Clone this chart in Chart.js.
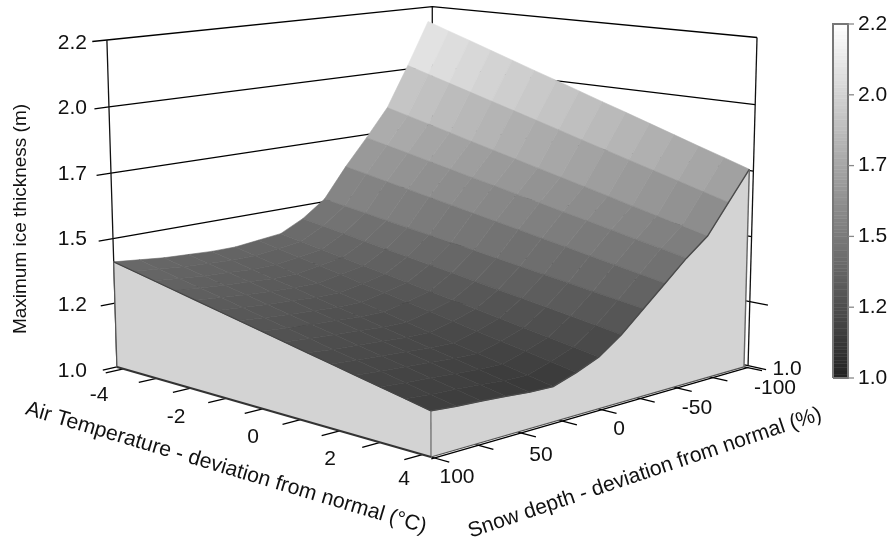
<!DOCTYPE html>
<html><head><meta charset="utf-8">
<style>html,body{margin:0;padding:0;background:#fff}canvas{display:block;filter:blur(0.6px)}</style>
<script src="https://cdn.jsdelivr.net/npm/chart.js@4"></script>
</head><body><canvas id="c" width="888" height="541"></canvas>
<script>
// ---- data ----
const airTemp = [-4.2,-3.6,-3,-2.4,-1.8,-1.2,-0.6,0,0.6,1.2,1.8,2.4,3,3.6,4.2];
const snowDepth = [100,85.7,71.4,57.1,42.9,28.6,14.3,0,-14.3,-28.6,-42.9,-57.1,-71.4,-85.7,-100];
const iceS100  = [1.410,1.392,1.374,1.356,1.338,1.320,1.302,1.284,1.266,1.248,1.230,1.212,1.194,1.176,1.158];
const iceS86   = [1.400,1.382,1.364,1.346,1.329,1.311,1.293,1.275,1.257,1.239,1.221,1.204,1.186,1.168,1.150];
const iceS71   = [1.390,1.373,1.355,1.338,1.320,1.303,1.285,1.268,1.250,1.233,1.215,1.198,1.180,1.163,1.145];
const iceS57   = [1.385,1.367,1.350,1.332,1.314,1.297,1.279,1.262,1.244,1.226,1.209,1.191,1.173,1.156,1.138];
const iceS43   = [1.380,1.362,1.344,1.326,1.309,1.291,1.273,1.255,1.237,1.219,1.201,1.184,1.166,1.148,1.130];
const iceS29   = [1.380,1.362,1.344,1.326,1.308,1.290,1.272,1.254,1.235,1.217,1.199,1.181,1.163,1.145,1.127];
const iceS14   = [1.390,1.373,1.356,1.340,1.323,1.306,1.289,1.273,1.256,1.239,1.222,1.205,1.189,1.172,1.155];
const iceS0    = [1.400,1.385,1.370,1.355,1.340,1.325,1.310,1.295,1.280,1.265,1.250,1.235,1.220,1.205,1.190];
const iceSm14  = [1.445,1.431,1.417,1.403,1.389,1.375,1.361,1.348,1.334,1.320,1.306,1.292,1.278,1.264,1.250];
const iceSm29  = [1.510,1.497,1.484,1.470,1.457,1.444,1.431,1.418,1.404,1.391,1.378,1.365,1.351,1.338,1.325];
const iceSm43  = [1.630,1.614,1.597,1.581,1.564,1.548,1.531,1.515,1.499,1.482,1.466,1.449,1.433,1.416,1.400];
const iceSm57  = [1.737,1.718,1.700,1.681,1.662,1.643,1.625,1.606,1.587,1.568,1.550,1.531,1.512,1.494,1.475];
const iceSm71  = [1.850,1.828,1.806,1.784,1.761,1.739,1.717,1.695,1.673,1.651,1.629,1.606,1.584,1.562,1.540];
const iceSm86  = [2.015,1.989,1.963,1.937,1.911,1.885,1.859,1.833,1.806,1.780,1.754,1.728,1.702,1.676,1.650];
const iceSm100 = [2.190,2.159,2.129,2.098,2.067,2.036,2.006,1.975,1.944,1.914,1.883,1.852,1.821,1.791,1.760];
const ice = [iceS100,iceS86,iceS71,iceS57,iceS43,iceS29,iceS14,iceS0,iceSm14,iceSm29,iceSm43,iceSm57,iceSm71,iceSm86,iceSm100];
const tempTicks = [-4,-3,-2,-1,0,1,2,3,4];
const snowTicks = [100,75,50,25,0,-25,-50,-75,-100];
const zTicks = [1,1.25,1.5,1.75,2,2.25];
const zTickLabels = ['1.0','1.2','1.5','1.7','2.0','2.2'];
const tempTickLabels = ['-4','-2','0','2','4'];
const snowTickLabels = ['100','50','0','-50','-100'];

// ---- view: perspective projection of the 3D box into the chart's pixel-like scales ----
const box = {tMin:-4.2,tMax:4.2,sMin:-103,sMax:100,zMin:1,zMax:2.25};
const cam = {ox:431,oy:457,
  ax:-296,ay:-33.35,aw:0.1544,
  bx:429.8,by:-36.3,bw:0.1507,
  cx:-15.2,cy:-378.8,cw:-0.0337};
function proj(T,S,Z){
  const t=(box.tMax-T)/(box.tMax-box.tMin), s=(box.sMax-S)/(box.sMax-box.sMin), w=(Z-box.zMin)/(box.zMax-box.zMin);
  const W=1+t*cam.aw+s*cam.bw+w*cam.cw;
  return {x:(cam.ox+t*cam.ax+s*cam.bx+w*cam.cx)/W, y:(cam.oy+t*cam.ay+s*cam.by+w*cam.cy)/W};
}
function gray(z){const g=Math.max(0,Math.min(255,Math.round(34+176.8*(z-1))));return `rgb(${g},${g},${g})`;}

const layers=[];
function line(pts,color,width){layers.push({data:pts,showLine:true,fill:false,borderColor:color,borderWidth:width,pointRadius:0,tension:0,clip:false});}
function poly(pts,fillC,edgeC,width){layers.push({data:pts.concat([pts[0]]),showLine:true,fill:'shape',backgroundColor:fillC,borderColor:edgeC,borderWidth:width,pointRadius:0,tension:0,clip:false});}

const tL=box.tMin,tR=box.tMax,sN=box.sMax,sF=box.sMin,z0=box.zMin,z1=box.zMax;
// back walls: grid lines and vertical edges
zTicks.forEach(z=>{
  line([proj(tL,108,z),proj(tL,sN,z),proj(tL,sF,z),proj(tR,sF,z)],'#000',1.3);
});
line([proj(tL,sN,z0),proj(tL,sN,z1)],'#111',1.3);
line([proj(tL,sF,z0),proj(tL,sF,z1)],'#111',1.3);
line([proj(tR,sF,z0),proj(tR,sF,z1)],'#111',1.3);
// right-hand outer ticks
[1,1.25].forEach(z=>line([proj(tR,sF,z),proj(4.62,sF,z)],'#000',1.3));
// floor ticks
tempTicks.forEach(T=>line([proj(T,sN,z0),proj(T,110,z0)],'#000',1.3));
snowTicks.forEach(S=>line([proj(tR,S,z0),proj(4.62,S,z0)],'#000',1.3));
line([proj(tR,sN,z0),proj(tR,sF,z0)].map(p=>({x:p.x+0.3,y:p.y+1.8})),'#000',1.3);

// side walls
const n=airTemp.length, m=snowDepth.length;
const front=[];for(let j=0;j<n;j++)front.push(proj(airTemp[j],snowDepth[0],ice[0][j]));
poly(front.concat([proj(tR,snowDepth[0],z0),proj(tL,snowDepth[0],z0)]),'#d3d3d3','#d3d3d3',0.5);
const side=[];for(let i=0;i<m;i++)side.push(proj(tR,snowDepth[i],ice[i][n-1]));
poly(side.concat([proj(tR,snowDepth[m-1],z0),proj(tR,snowDepth[0],z0)]),'#d3d3d3','#d3d3d3',0.5);

// surface facets, painted far to near
for(let i=m-2;i>=0;i--){
  for(let j=0;j<n-1;j++){
    const a=ice[i][j],b=ice[i][j+1],c=ice[i+1][j+1],d=ice[i+1][j];
    const col=gray((a+b+c+d)/4);
    poly([proj(airTemp[j],snowDepth[i],a),proj(airTemp[j+1],snowDepth[i],b),proj(airTemp[j+1],snowDepth[i+1],c),proj(airTemp[j],snowDepth[i+1],d)],col,col,0.6);
  }
}
// outlines of walls
line(front,'#444',1.2);
line(side,'#4a4a4a',1.4);
line([proj(tR,snowDepth[0],ice[0][n-1]),proj(tR,snowDepth[0],z0)],'#666',1.2);
line([proj(tR,snowDepth[m-1],ice[m-1][n-1]),proj(tR,snowDepth[m-1],z0)],'#666',1.4);
line([proj(tL,snowDepth[0],ice[0][0]),proj(tL,snowDepth[0],z0)],'#555',1.2);
line([proj(tL,snowDepth[0],z0),proj(tR,snowDepth[0],z0)],'#333',2.2);
line([proj(tR,snowDepth[0],z0),proj(tR,snowDepth[m-1],z0)],'#555',1.3);

// colour bar
const barX0=833,barX1=848,barY0=378,barY1=24;
const by=z=>barY0+(z-1)/1.25*(barY1-barY0);
for(let z=1;z<2.25-1e-6;z+=0.0125){
  const c=gray(z+0.00625);
  poly([{x:barX0,y:by(z)},{x:barX1,y:by(z)},{x:barX1,y:by(z+0.0125)},{x:barX0,y:by(z+0.0125)}],c,c,0.5);
}
poly([{x:barX0,y:barY0},{x:barX1,y:barY0},{x:barX1,y:barY1},{x:barX0,y:barY1}],'rgba(0,0,0,0)','#777',2);
zTicks.forEach(z=>line([{x:barX1,y:by(z)},{x:barX1+6,y:by(z)}],'#888',1.3));

// text placement
const FONT='"Liberation Sans", Arial, sans-serif';
const tempLabelPos=[[99,395],[176,417],[253,437],[330,459],[404,479]];
const snowLabelPos=[[457,477],[541,455],[619,429],[697,408],[775,388]];
const zLabelY=[371,305,239,174,108,43];
const textPlugin={id:'texts',afterDatasetsDraw(chart){
  const g=chart.ctx;g.save();g.fillStyle='#111';g.textBaseline='middle';
  g.font=`21px ${FONT}`;
  g.textAlign='right';
  zTickLabels.forEach((t,i)=>g.fillText(t,87,zLabelY[i]));
  g.textAlign='center';
  tempTickLabels.forEach((t,i)=>g.fillText(t,tempLabelPos[i][0],tempLabelPos[i][1]));
  snowTickLabels.forEach((t,i)=>g.fillText(t,snowLabelPos[i][0],snowLabelPos[i][1]));
  g.fillText('1.0',787,369);
  g.textAlign='left';
  zTickLabels.forEach((t,i)=>g.fillText(t,858,by(zTicks[i])));
  g.textAlign='center';
  function rot(t,x,y,deg,size){g.save();g.font=`${size}px ${FONT}`;g.translate(x,y);g.rotate(deg*Math.PI/180);g.fillText(t,0,0);g.restore();}
  rot('Maximum ice thickness (m)',21,219,-90,19);
  rot('Air Temperature - deviation from normal (°C)',226,468,16.6,21.2);
  rot('Snow depth - deviation from normal (%)',645,473,-18.6,21.1);
  g.restore();
}};

new Chart(document.getElementById('c'),{
  type:'scatter',
  data:{datasets:layers.slice().reverse()},
  options:{responsive:false,animation:false,events:[],
    layout:{padding:0},
    plugins:{legend:{display:false},tooltip:{enabled:false},title:{display:false}},
    scales:{x:{type:'linear',min:0,max:888,display:false},y:{type:'linear',min:0,max:541,reverse:true,display:false}}
  },
  plugins:[textPlugin]
});
</script></body></html>
